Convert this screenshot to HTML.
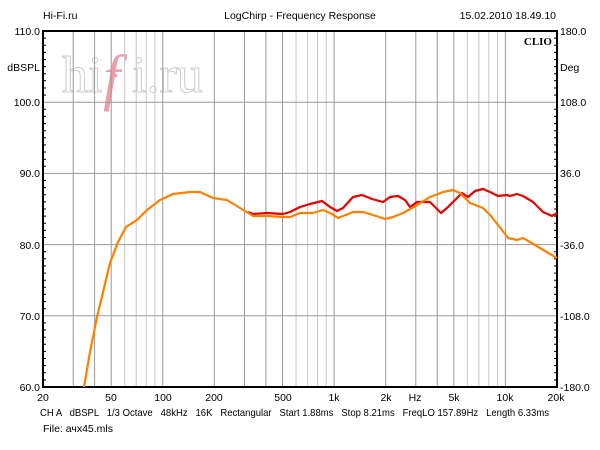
<!DOCTYPE html>
<html><head><meta charset="utf-8"><style>
html,body{margin:0;padding:0;background:#fff}
svg{display:block}
text{font-family:"Liberation Sans",Arial,sans-serif;font-size:10.5px;fill:#000}
</style></head><body>
<svg width="600" height="450" viewBox="0 0 600 450" xmlns="http://www.w3.org/2000/svg">
<rect width="600" height="450" fill="#fff"/>
<text x="43" y="19">Hi-Fi.ru</text>
<text x="300" y="19" text-anchor="middle">LogChirp - Frequency Response</text>
<text x="556" y="19" text-anchor="end">15.02.2010 18.49.10</text>
<!-- watermark -->
<text x="62" y="92" style="font-family:'Liberation Serif',serif;font-size:52px;fill:#fff;stroke:#ccc;stroke-width:1">hi</text>
<text x="103" y="98" style="font-family:'Liberation Serif',serif;font-size:62px;font-style:italic;fill:#e9a0aa">f</text>
<text x="113" y="80" style="font-size:14px;fill:#e9a0aa">•</text>
<text x="132" y="92" style="font-family:'Liberation Serif',serif;font-size:52px;fill:#fff;stroke:#ccc;stroke-width:1">i.ru</text>
<g stroke="#9a9a9a" stroke-width="1">
<line x1="73.2" y1="31" x2="73.2" y2="387"/><line x1="94.6" y1="31" x2="94.6" y2="387"/><line x1="111.2" y1="31" x2="111.2" y2="387"/><line x1="124.7" y1="31" x2="124.7" y2="387" stroke="#c8c8c8"/><line x1="136.2" y1="31" x2="136.2" y2="387" stroke="#c8c8c8"/><line x1="146.2" y1="31" x2="146.2" y2="387" stroke="#c8c8c8"/><line x1="154.9" y1="31" x2="154.9" y2="387" stroke="#c8c8c8"/><line x1="162.8" y1="31" x2="162.8" y2="387"/>
<line x1="214.3" y1="31" x2="214.3" y2="387"/><line x1="244.5" y1="31" x2="244.5" y2="387"/><line x1="265.9" y1="31" x2="265.9" y2="387"/><line x1="282.5" y1="31" x2="282.5" y2="387"/><line x1="296.1" y1="31" x2="296.1" y2="387" stroke="#c8c8c8"/><line x1="307.6" y1="31" x2="307.6" y2="387" stroke="#c8c8c8"/><line x1="317.5" y1="31" x2="317.5" y2="387" stroke="#c8c8c8"/><line x1="326.2" y1="31" x2="326.2" y2="387" stroke="#c8c8c8"/><line x1="334.1" y1="31" x2="334.1" y2="387"/>
<line x1="385.7" y1="31" x2="385.7" y2="387"/><line x1="415.8" y1="31" x2="415.8" y2="387"/><line x1="437.2" y1="31" x2="437.2" y2="387"/><line x1="453.8" y1="31" x2="453.8" y2="387"/><line x1="467.4" y1="31" x2="467.4" y2="387" stroke="#c8c8c8"/><line x1="478.9" y1="31" x2="478.9" y2="387" stroke="#c8c8c8"/><line x1="488.8" y1="31" x2="488.8" y2="387" stroke="#c8c8c8"/><line x1="497.5" y1="31" x2="497.5" y2="387" stroke="#c8c8c8"/><line x1="505.4" y1="31" x2="505.4" y2="387"/>
<line x1="43" y1="102.2" x2="557" y2="102.2"/><line x1="43" y1="173.4" x2="557" y2="173.4"/><line x1="43" y1="244.6" x2="557" y2="244.6"/><line x1="43" y1="315.8" x2="557" y2="315.8"/>
</g>
<g stroke="#000" stroke-width="1">
<path d="M43,38.1h3M43,45.2h3M43,52.4h3M43,59.5h3M43,66.6h3M43,73.7h3M43,80.8h3M43,88h3M43,95.1h3M43,109.3h3M43,116.4h3M43,123.6h3M43,130.7h3M43,137.8h3M43,144.9h3M43,152h3M43,159.2h3M43,166.3h3M43,180.5h3M43,187.6h3M43,194.8h3M43,201.9h3M43,209h3M43,216.1h3M43,223.2h3M43,230.4h3M43,237.5h3M43,251.7h3M43,258.8h3M43,266h3M43,273.1h3M43,280.2h3M43,287.3h3M43,294.4h3M43,301.6h3M43,308.7h3M43,322.9h3M43,330h3M43,337.2h3M43,344.3h3M43,351.4h3M43,358.5h3M43,365.6h3M43,372.8h3M43,379.9h3"/>
<path d="M557,38.1h-3M557,45.2h-3M557,52.4h-3M557,59.5h-3M557,66.6h-3M557,73.7h-3M557,80.8h-3M557,88h-3M557,95.1h-3M557,109.3h-3M557,116.4h-3M557,123.6h-3M557,130.7h-3M557,137.8h-3M557,144.9h-3M557,152h-3M557,159.2h-3M557,166.3h-3M557,180.5h-3M557,187.6h-3M557,194.8h-3M557,201.9h-3M557,209h-3M557,216.1h-3M557,223.2h-3M557,230.4h-3M557,237.5h-3M557,251.7h-3M557,258.8h-3M557,266h-3M557,273.1h-3M557,280.2h-3M557,287.3h-3M557,294.4h-3M557,301.6h-3M557,308.7h-3M557,322.9h-3M557,330h-3M557,337.2h-3M557,344.3h-3M557,351.4h-3M557,358.5h-3M557,365.6h-3M557,372.8h-3M557,379.9h-3"/>
</g>
<rect x="43" y="31" width="514" height="356" fill="none" stroke="#000" stroke-width="2"/>
<text x="552" y="45" text-anchor="end" style="font-family:'Liberation Serif',serif;font-weight:bold;font-size:11px">CLIO</text>
<!-- curves -->
<polyline fill="none" stroke="#e80000" stroke-width="2.2" stroke-linejoin="round" points="248,212 253,214 267,213 283,214 290,212 300,207 310,204 322,201 330,207 337,211 343,208 353,197 362,195 372,199 383,202 390,197 398,196 405,200 410,207 417,202 430,202 441,213 448,207 457,198 462,193 468,197 475,191 483,189 490,192 498,196 507,195 510,196 517,194 523,196 533,202 543,212 552,216 557,213"/>
<polyline fill="none" stroke="#ff8000" stroke-width="2.2" stroke-linejoin="round" points="84,387 90,352 97,317 104,288 110,263 118,242 126,227 137,220 147,210 160,200 173,194 190,192 200,192 213,198 227,200 240,208 253,216 267,216 283,217 290,217 300,213 313,213 323,210 332,214 338,218 353,212 363,212 373,215 385,219 393,217 403,213 412,208 422,202 430,197 438,194 443,192 453,190 460,193 470,203 483,208 490,215 498,225 508,238 517,240 523,238 530,242 540,248 550,254 557,258"/>
<!-- axis labels -->
<text x="40" y="35" text-anchor="end">110.0</text>
<text x="40" y="71" text-anchor="end">dBSPL</text>
<text x="40" y="106" text-anchor="end">100.0</text>
<text x="40" y="177" text-anchor="end">90.0</text>
<text x="40" y="249" text-anchor="end">80.0</text>
<text x="40" y="320" text-anchor="end">70.0</text>
<text x="40" y="391" text-anchor="end">60.0</text>
<text x="560" y="35">180.0</text>
<text x="560" y="71">Deg</text>
<text x="560" y="106">108.0</text>
<text x="560" y="177">36.0</text>
<text x="560" y="249">-36.0</text>
<text x="560" y="320">-108.0</text>
<text x="560" y="391">-180.0</text>
<g text-anchor="middle">
<text x="43" y="401">20</text><text x="111" y="401">50</text><text x="163" y="401">100</text><text x="214" y="401">200</text><text x="283" y="401">500</text><text x="334" y="401">1k</text><text x="386" y="401">2k</text><text x="415" y="401">Hz</text><text x="454" y="401">5k</text><text x="505" y="401">10k</text><text x="556" y="401">20k</text>
</g>
<text x="40" y="416" xml:space="preserve" textLength="509" lengthAdjust="spacingAndGlyphs">CH A   dBSPL   1/3 Octave   48kHz   16K   Rectangular   Start 1.88ms   Stop 8.21ms   FreqLO 157.89Hz   Length 6.33ms</text>
<text x="43" y="432" style="font-family:'Liberation Sans','DejaVu Sans',sans-serif">File: ачх45.mls</text>
</svg>
</body></html>
